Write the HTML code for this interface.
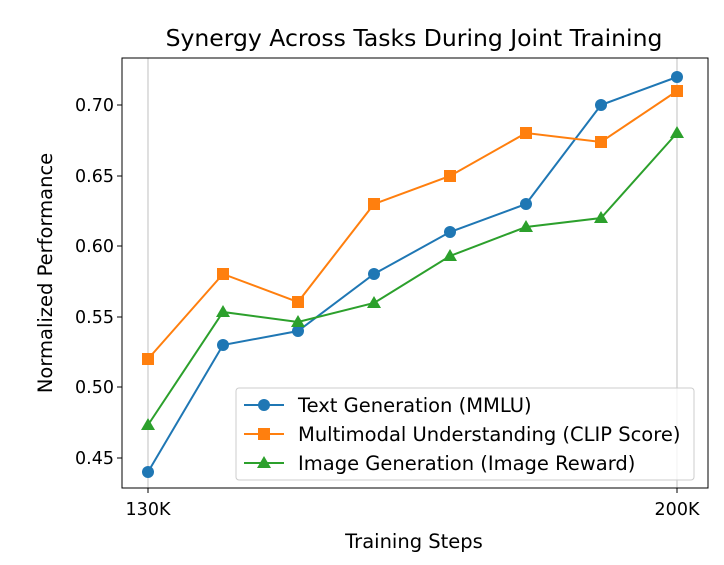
<!DOCTYPE html>
<html><head><meta charset="utf-8"><style>body{margin:0;background:#fff}</style></head><body>
<svg width="724" height="560" xmlns="http://www.w3.org/2000/svg" font-family="DejaVu Sans, sans-serif">
<rect width="724" height="560" fill="#fff"/>
<line x1="148" y1="58" x2="148" y2="488" stroke="#b0b0b0" stroke-width="0.8"/>
<line x1="677" y1="58" x2="677" y2="488" stroke="#b0b0b0" stroke-width="0.8"/>
<rect x="122" y="58" width="586" height="430" fill="none" stroke="#000" stroke-width="1"/>
<text x="414" y="46" font-size="23.5" text-anchor="middle">Synergy Across Tasks During Joint Training</text>
<g font-size="17.5" text-anchor="end">
<line x1="117" y1="105" x2="122" y2="105" stroke="#000"/><text x="114" y="111">0.70</text>
<line x1="117" y1="176" x2="122" y2="176" stroke="#000"/><text x="114" y="182">0.65</text>
<line x1="117" y1="246" x2="122" y2="246" stroke="#000"/><text x="114" y="252">0.60</text>
<line x1="117" y1="317" x2="122" y2="317" stroke="#000"/><text x="114" y="323">0.55</text>
<line x1="117" y1="387" x2="122" y2="387" stroke="#000"/><text x="114" y="393">0.50</text>
<line x1="117" y1="458" x2="122" y2="458" stroke="#000"/><text x="114" y="464">0.45</text>
</g>
<line x1="148" y1="488" x2="148" y2="493" stroke="#000"/><line x1="677" y1="488" x2="677" y2="493" stroke="#000"/>
<text x="148" y="515" font-size="17.5" text-anchor="middle">130K</text>
<text x="677" y="515" font-size="17.5" text-anchor="middle">200K</text>
<text x="414" y="548" font-size="19.5" text-anchor="middle">Training Steps</text>
<text transform="translate(52,273) rotate(-90)" font-size="19.5" text-anchor="middle">Normalized Performance</text>
<polyline fill="none" stroke="#1f77b4" stroke-width="2" points="148,472 223,345 298,331 374,274 450,232 526,204 601,105 677,77"/>
<g fill="#1f77b4"><circle cx="148" cy="472" r="6"/><circle cx="223" cy="345" r="6"/><circle cx="298" cy="331" r="6"/><circle cx="374" cy="274" r="6"/><circle cx="450" cy="232" r="6"/><circle cx="526" cy="204" r="6"/><circle cx="601" cy="105" r="6"/><circle cx="677" cy="77" r="6"/></g>
<polyline fill="none" stroke="#ff7f0e" stroke-width="2" points="148,359 223,274 298,302 374,204 450,176 526,133 601,142 677,91"/>
<g fill="#ff7f0e"><rect x="142" y="353" width="12" height="12"/><rect x="217" y="268" width="12" height="12"/><rect x="292" y="296" width="12" height="12"/><rect x="368" y="198" width="12" height="12"/><rect x="444" y="170" width="12" height="12"/><rect x="520" y="127" width="12" height="12"/><rect x="595" y="136" width="12" height="12"/><rect x="671" y="85" width="12" height="12"/></g>
<polyline fill="none" stroke="#2ca02c" stroke-width="2" points="148,425 223,312 298,322 374,303 450,256 526,227 601,218 677,133"/>
<g fill="#2ca02c"><path d="M148,418 l7,12 h-14z"/><path d="M223,305 l7,12 h-14z"/><path d="M298,315 l7,12 h-14z"/><path d="M374,296 l7,12 h-14z"/><path d="M450,249 l7,12 h-14z"/><path d="M526,220 l7,12 h-14z"/><path d="M601,211 l7,12 h-14z"/><path d="M677,126 l7,12 h-14z"/></g>
<rect x="236" y="388" width="458" height="92" rx="3" fill="#fff" fill-opacity="0.8" stroke="#ccc"/>
<line x1="244" y1="405" x2="284" y2="405" stroke="#1f77b4" stroke-width="2"/><circle cx="264" cy="405" r="6" fill="#1f77b4"/>
<text x="298" y="412" font-size="19.5">Text Generation (MMLU)</text>
<line x1="244" y1="434" x2="284" y2="434" stroke="#ff7f0e" stroke-width="2"/><rect x="258" y="428" width="12" height="12" fill="#ff7f0e"/>
<text x="298" y="441" font-size="19.5">Multimodal Understanding (CLIP Score)</text>
<line x1="244" y1="463" x2="284" y2="463" stroke="#2ca02c" stroke-width="2"/><path d="M264,456 l7,12 h-14z" fill="#2ca02c"/>
<text x="298" y="470" font-size="19.5">Image Generation (Image Reward)</text>
</svg>
</body></html>
